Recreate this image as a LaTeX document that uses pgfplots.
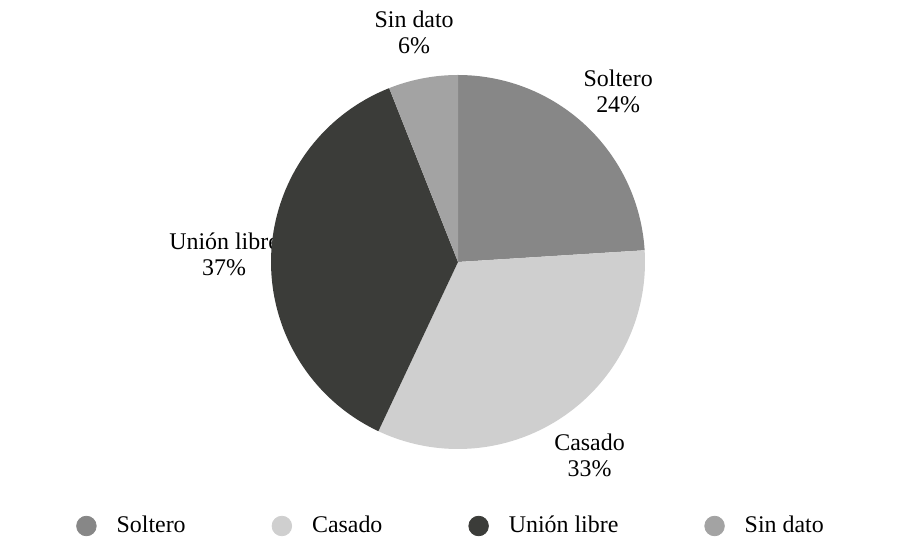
\documentclass[border=0pt]{standalone}
\usepackage{fontspec}
\setmainfont{Liberation Serif}
\usepackage{pgfplots}
\pgfplotsset{compat=1.18}
\usetikzlibrary{calc}
\definecolor{cSol}{HTML}{878787}
\definecolor{cCas}{HTML}{CFCFCF}
\definecolor{cUni}{HTML}{3B3C39}
\definecolor{cSin}{HTML}{A3A3A3}
\begin{document}
\begin{tikzpicture}
% shares (percent)
\pgfmathsetmacro\vSol{24}
\pgfmathsetmacro\vCas{33}
\pgfmathsetmacro\vUni{37}
\pgfmathsetmacro\vSin{6}
% cumulative angles, clockwise from the top
\pgfmathsetmacro\aA{90}
\pgfmathsetmacro\aB{\aA-3.6*\vSol}
\pgfmathsetmacro\aC{\aB-3.6*\vCas}
\pgfmathsetmacro\aD{\aC-3.6*\vUni}
\pgfmathsetmacro\aE{\aD-3.6*\vSin}
\pgfmathsetmacro\mA{(\aA+\aB)/2}
\pgfmathsetmacro\mB{(\aB+\aC)/2}
\pgfmathsetmacro\mC{(\aC+\aD)/2}
\pgfmathsetmacro\mD{(\aD+\aE)/2}
\begin{axis}[
  scale only axis, width=448.5bp, height=275.5bp,
  xmin=-458, xmax=439, ymin=-289, ymax=262,
  hide axis, clip=false,
  legend columns=4,
  legend style={draw=none, fill=none, at={(axis cs:-6,-264)}, anchor=center,
    font=\fontsize{12}{13}\selectfont,
    /tikz/every odd column/.append style={column sep=8bp},
    /tikz/every even column/.append style={column sep=41bp}},
]
\node[align=center, font=\fontsize{12}{13}\selectfont] at ($(axis cs:0,0)+(\mA:117bp)$) {Soltero\\24\%};
\node[align=center, font=\fontsize{12}{13}\selectfont] at ($(axis cs:0,0)+(\mB:117bp)$) {Casado\\33\%};
\node[align=center, font=\fontsize{12}{13}\selectfont] at ($(axis cs:0,0)+(\mC:117bp)$) {Unión libre\\37\%};
\node[align=center, font=\fontsize{12}{13}\selectfont] at ($(axis cs:0,0)+(\mD:117bp)$) {Sin dato\\6\%};
\addplot[fill=cSol, draw=none, domain=\aB:\aA, samples=80, data cs=polar, forget plot] ({x},{187}) -- (axis cs:0,0) -- cycle;
\addplot[fill=cCas, draw=none, domain=\aC:\aB, samples=80, data cs=polar, forget plot] ({x},{187}) -- (axis cs:0,0) -- cycle;
\addplot[fill=cUni, draw=none, domain=\aD:\aC, samples=80, data cs=polar, forget plot] ({x},{187}) -- (axis cs:0,0) -- cycle;
\addplot[fill=cSin, draw=none, domain=\aE:\aD, samples=80, data cs=polar, forget plot] ({x},{187}) -- (axis cs:0,0) -- cycle;
\addlegendimage{legend image code/.code={\fill[cSol] (0bp,0bp) circle (4.9bp);}}
\addlegendentry{Soltero}
\addlegendimage{legend image code/.code={\fill[cCas] (0bp,0bp) circle (4.9bp);}}
\addlegendentry{Casado}
\addlegendimage{legend image code/.code={\fill[cUni] (0bp,0bp) circle (4.9bp);}}
\addlegendentry{Unión libre}
\addlegendimage{legend image code/.code={\fill[cSin] (0bp,0bp) circle (4.9bp);}}
\addlegendentry{Sin dato}
\end{axis}
\pgfresetboundingbox
\useasboundingbox (current axis.south west) rectangle (current axis.north east);
\end{tikzpicture}
\end{document}
